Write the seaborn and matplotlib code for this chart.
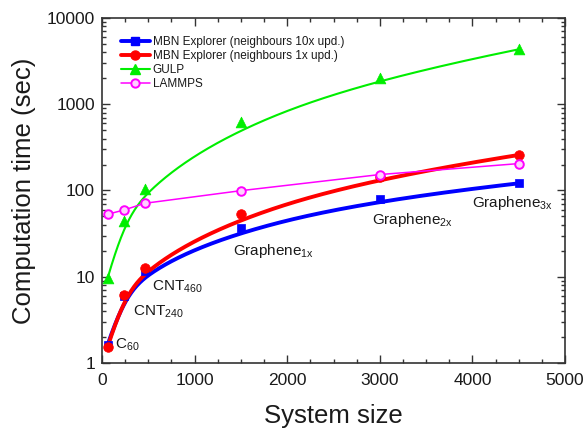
import numpy as np
import pandas as pd
import matplotlib
matplotlib.use("Agg")
import matplotlib.pyplot as plt
import seaborn as sns
from matplotlib.lines import Line2D
from matplotlib.ticker import MultipleLocator, FixedLocator, LogLocator, FuncFormatter, NullFormatter

# ---------------- data ----------------
system_size = [60, 240, 460, 1500, 3000, 4500]
mbn_10x = [1.62, 5.9, 11.5, 37, 79, 121]
mbn_1x = [1.53, 6.1, 12.6, 54, 143, 258]
gulp = [9.6, 44, 104, 615, 2030, 4330]
lammps = [53, 59.5, 71, 99.5, 153, 205]

series_names = ["MBN Explorer (neighbours 10x upd.)",
                "MBN Explorer (neighbours 1x upd.)",
                "GULP", "LAMMPS"]

ann_texts = [r"$\mathregular{C_{60}}$", r"$\mathregular{CNT_{240}}$", r"$\mathregular{CNT_{460}}$",
             r"$\mathregular{Graphene_{1x}}$", r"$\mathregular{Graphene_{2x}}$", r"$\mathregular{Graphene_{3x}}$"]
ann_x = [140, 331, 535, 1418, 2912, 3992]
ann_y = [1.62, 3.9, 7.7, 20, 46, 71]

x_ticks = [0, 1000, 2000, 3000, 4000, 5000]
y_ticks = [1, 10, 100, 1000, 10000]

# ---------------- style ----------------
sns.set_theme(style="ticks")
plt.rcParams["font.family"] = ["Liberation Sans", "DejaVu Sans"]
plt.rcParams["mathtext.fontset"] = "custom"
plt.rcParams["mathtext.rm"] = "Liberation Sans"
plt.rcParams["mathtext.it"] = "Liberation Sans"
txt_col = "#1a1a1a"


def bspline(xs, ys, n=400, k=3):
    """Clamped B-spline with data points as control points (x linear, y log)."""
    P = np.column_stack([np.asarray(xs, float), np.log10(np.asarray(ys, float))])
    m = len(P)
    knots = np.concatenate([[0.0] * k, np.linspace(0, 1, m - k + 1), [1.0] * k])
    t = np.linspace(0, 1, n)
    t[-1] = 1 - 1e-12
    N = np.zeros((n, len(knots) - 1))
    for i in range(len(knots) - 1):
        N[:, i] = ((t >= knots[i]) & (t < knots[i + 1])).astype(float)
    for d in range(1, k + 1):
        Nn = np.zeros((n, len(knots) - 1 - d))
        for i in range(len(knots) - 1 - d):
            den1 = knots[i + d] - knots[i]
            den2 = knots[i + d + 1] - knots[i + 1]
            term = np.zeros(n)
            if den1 > 0:
                term += (t - knots[i]) / den1 * N[:, i]
            if den2 > 0:
                term += (knots[i + d + 1] - t) / den2 * N[:, i + 1]
            Nn[:, i] = term
        N = Nn
    C = N @ P
    return C[:, 0], 10 ** C[:, 1]


fig = plt.figure(figsize=(5.85, 4.28), dpi=100)
ax = fig.add_axes([0.1744, 0.1519, 0.7914, 0.8061])

blue, red, green, magenta = "#0000ff", "#ff0000", "#00ee00", "#ff00ff"

for vals, col, lw in [(gulp, green, 1.5), (mbn_10x, blue, 2.8), (mbn_1x, red, 2.8)]:
    cx, cy = bspline(system_size, vals)
    sns.lineplot(x=cx, y=cy, color=col, lw=lw, ax=ax, sort=False, estimator=None)

sns.scatterplot(x=system_size, y=gulp, marker="^", s=60, color=green, edgecolor=green, linewidth=0.5, ax=ax, zorder=4)
sns.scatterplot(x=system_size, y=mbn_10x, marker="s", s=36, color=blue, edgecolor=blue, linewidth=0.5, ax=ax, zorder=4)
sns.scatterplot(x=system_size, y=mbn_1x, marker="o", s=48, color=red, edgecolor=red, linewidth=0.5, ax=ax, zorder=5)

df_l = pd.DataFrame({"x": system_size, "y": lammps})
sns.lineplot(data=df_l, x="x", y="y", color=magenta, lw=1.1, ax=ax, zorder=6)
sns.scatterplot(data=df_l, x="x", y="y", marker="o", s=38, facecolor="#ffd0ff", edgecolor=magenta, linewidth=1.4, ax=ax, zorder=7)

ax.set_yscale("log")
ax.set_xlim(0, 5000)
ax.set_ylim(1, 10000)

ax.xaxis.set_major_locator(FixedLocator(x_ticks))
ax.xaxis.set_minor_locator(MultipleLocator(250))
ax.yaxis.set_major_locator(FixedLocator(y_ticks))
ax.yaxis.set_minor_locator(LogLocator(base=10, subs=np.arange(2, 10)))
ax.yaxis.set_major_formatter(FuncFormatter(lambda v, p: f"{int(round(v))}"))
ax.yaxis.set_minor_formatter(NullFormatter())
ax.xaxis.set_major_formatter(FuncFormatter(lambda v, p: f"{int(round(v))}"))

ax.tick_params(which="both", direction="in", top=True, right=True, colors="#333333",
               labelcolor=txt_col, labelsize=12.5, width=1.0)
ax.tick_params(which="major", length=6, pad=5)
ax.tick_params(axis="x", which="major", pad=7)
ax.tick_params(which="minor", length=3.2)
for s in ax.spines.values():
    s.set_linewidth(1.2)
    s.set_color("#333333")

ax.set_xlabel("System size", fontsize=18.5, color=txt_col, labelpad=12)
ax.set_ylabel("Computation time (sec)", fontsize=18.5, color=txt_col, labelpad=8)

for t, xx, yy in zip(ann_texts, ann_x, ann_y):
    ax.text(xx, yy, t, fontsize=11, color=txt_col, ha="left", va="center")

handles = [
    Line2D([], [], color=blue, lw=2.8, marker="s", markersize=5.5),
    Line2D([], [], color=red, lw=2.8, marker="o", markersize=6.5),
    Line2D([], [], color=green, lw=1.5, marker="^", markersize=7),
    Line2D([], [], color=magenta, lw=1.1, marker="o", markersize=6, markerfacecolor="#ffd0ff",
           markeredgewidth=1.4),
]
ax.legend(handles, series_names, loc="upper left", bbox_to_anchor=(0.03, 0.96), frameon=False,
          fontsize=8.5, handlelength=2.5, labelspacing=0.15, handletextpad=0.2, borderaxespad=0,
          labelcolor=txt_col)

fig.savefig("out.png", dpi=100)
